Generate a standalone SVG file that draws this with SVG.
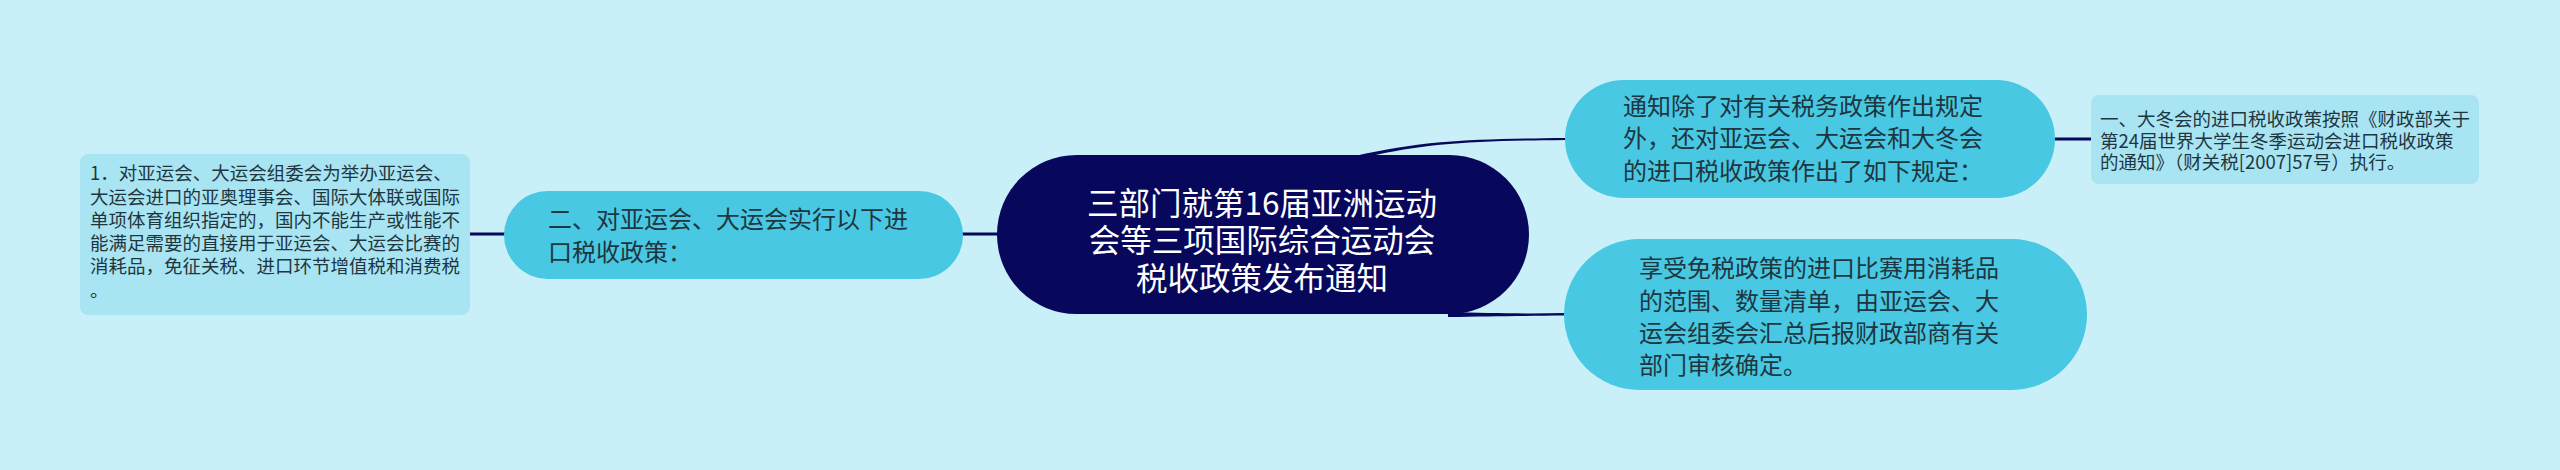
<svg xmlns="http://www.w3.org/2000/svg" width="2560" height="470" viewBox="0 0 2560 470">
<style>
.t{font-family:"Noto Sans CJK SC","Noto Sans",sans-serif;fill:#1e3640}
.pill{fill:#48c8e2}
.box{fill:#a9e4f3}
.c{fill:none;stroke:#07075c;stroke-width:3}
</style>
<rect width="2560" height="470" fill="#c9f0f8"/>
<g id="connectors">
<path class="c" d="M470 234 L505 234"/>
<path class="c" d="M962 234 L1000 234"/>
<path d="M1355 156 C1425 140 1475 139 1565 138 L1565 140 C1475 141 1425 143 1368 157 Z" fill="#07075c"/>
<path d="M1448 312 C1490 313 1525 314 1565 313 L1565 315.5 C1525 316 1490 316 1448 317 Z" fill="#07075c"/>
<path class="c" d="M2055 139 L2091 139"/>
</g>
<g id="center">
<rect x="997" y="155" width="532" height="159" rx="79.5" fill="#07075c"/>
<text class="t" style="fill:#ffffff" font-size="31.5" text-anchor="middle"><tspan x="1262" y="214.5">三部门就第16届亚洲运动</tspan><tspan x="1262" y="252">会等三项国际综合运动会</tspan><tspan x="1262" y="289.5">税收政策发布通知</tspan></text>
</g>
<g id="node-left-policy">
<rect class="pill" x="504" y="191" width="459" height="88" rx="44"/>
<text class="t" font-size="24"><tspan x="548" y="228">二、对亚运会、大运会实行以下进</tspan><tspan x="548" y="260.5">口税收政策：</tspan></text>
</g>
<g id="node-left-detail">
<rect class="box" x="80" y="154" width="390" height="161" rx="8"/>
<text class="t" font-size="18.5"><tspan x="90" y="180">1．对亚运会、大运会组委会为举办亚运会、</tspan><tspan x="90" y="204">大运会进口的亚奥理事会、国际大体联或国际</tspan><tspan x="90" y="227">单项体育组织指定的，国内不能生产或性能不</tspan><tspan x="90" y="250">能满足需要的直接用于亚运会、大运会比赛的</tspan><tspan x="90" y="273">消耗品，免征关税、进口环节增值税和消费税</tspan><tspan x="90" y="297">。</tspan></text>
</g>
<g id="node-right-top">
<rect class="pill" x="1565" y="80" width="490" height="118" rx="59"/>
<text class="t" font-size="24"><tspan x="1623" y="115">通知除了对有关税务政策作出规定</tspan><tspan x="1623" y="147">外，还对亚运会、大运会和大冬会</tspan><tspan x="1623" y="180">的进口税收政策作出了如下规定：</tspan></text>
</g>
<g id="node-right-bottom">
<rect class="pill" x="1564" y="239" width="523" height="151" rx="75.5"/>
<text class="t" font-size="24"><tspan x="1639" y="277">享受免税政策的进口比赛用消耗品</tspan><tspan x="1639" y="310">的范围、数量清单，由亚运会、大</tspan><tspan x="1639" y="342">运会组委会汇总后报财政部商有关</tspan><tspan x="1639" y="374">部门审核确定。</tspan></text>
</g>
<g id="node-far-right">
<rect class="box" x="2091" y="95" width="388" height="89" rx="8"/>
<text class="t" font-size="18.5"><tspan x="2100" y="126">一、大冬会的进口税收政策按照《财政部关于</tspan><tspan x="2100" y="147.5">第24届世界大学生冬季运动会进口税收政策</tspan><tspan x="2100" y="169">的通知》（财关税[2007]57号）执行。</tspan></text>
</g>
</svg>
